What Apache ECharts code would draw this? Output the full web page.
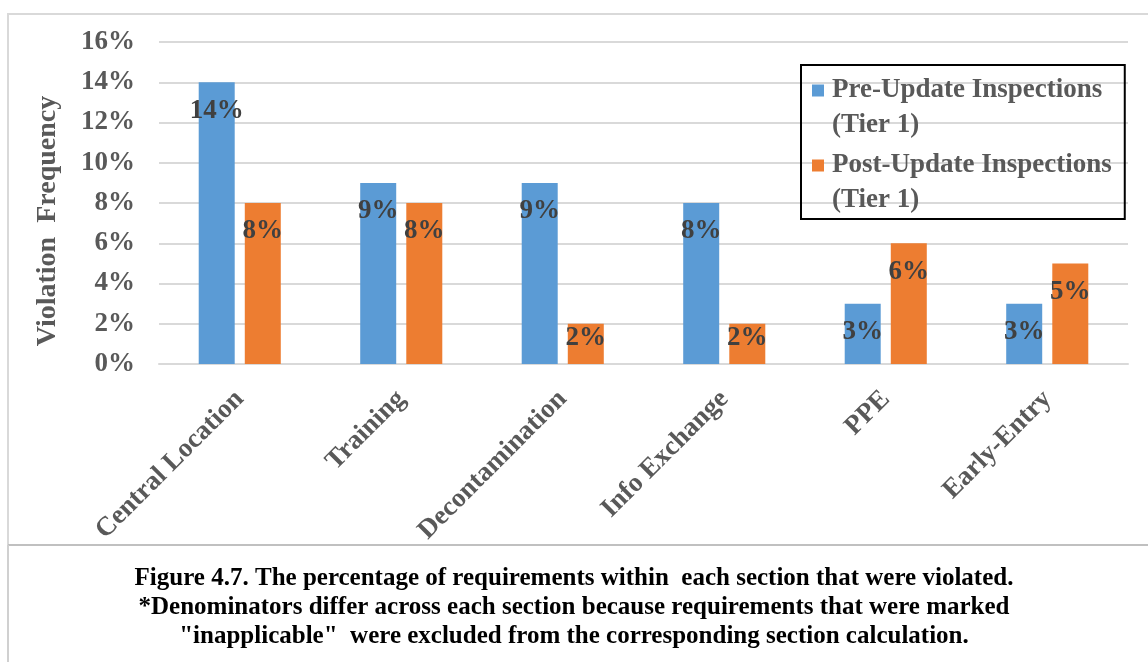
<!DOCTYPE html>
<html>
<head>
<meta charset="utf-8">
<script src="https://cdn.jsdelivr.net/npm/echarts@6/dist/echarts.min.js"></script>
<style>html,body{margin:0;padding:0;background:#fff;}#c{width:1148px;height:662px;}</style>
</head>
<body>
<div id="c"></div>
<script>
const categories = ['Central Location', 'Training', 'Decontamination', 'Info Exchange', 'PPE', 'Early-Entry'];
const preUpdate = [14, 9, 9, 8, 3, 3];
const postUpdate = [8, 8, 2, 2, 6, 5];
const seriesNames = ['Pre-Update Inspections (Tier 1)', 'Post-Update Inspections (Tier 1)'];
const yTicks = { min: 0, max: 16, interval: 2 };
const captionLines = [
  'Figure 4.7. The percentage of requirements within  each section that were violated.',
  '*Denominators differ across each section because requirements that were marked',
  '"inapplicable"  were excluded from the corresponding section calculation.'
];

const FONT = '"Liberation Serif", "Times New Roman", serif';
const FS = 27;
const chart = echarts.init(document.getElementById('c'));

function barData(vals) {
  return vals.map(v => ({ value: v, label: { distance: v < 3 ? 1 : 15 } }));
}

const labelStyle = {
  show: true, position: 'insideTop', formatter: '{c}%',
  fontFamily: FONT, fontWeight: 'bold', fontSize: FS, color: '#404040'
};

chart.setOption({
  animation: false,
  backgroundColor: '#fff',
  legend: {
    left: 801, top: 65,
    orient: 'vertical',
    icon: 'none',
    itemWidth: 0, itemHeight: 12,
    itemGap: 5,
    borderColor: '#000', borderWidth: 2,
    padding: [8, 13, 1, 6],
    selectedMode: false,
    formatter: function (name) {
      const key = name === seriesNames[0] ? 'p' : 'o';
      const idx = name.indexOf(' (');
      return '{' + key + '| }{g| }{t|' + name.slice(0, idx) + '}\n{s| }{t|' + name.slice(idx + 1) + '}';
    },
    textStyle: {
      fontFamily: FONT, fontWeight: 'bold', fontSize: FS, color: '#595959', lineHeight: 35,
      rich: {
        p: { backgroundColor: '#5B9BD5', width: 12, height: 12, lineHeight: 35 },
        o: { backgroundColor: '#ED7D31', width: 12, height: 12, lineHeight: 35 },
        g: { width: 8, lineHeight: 35 },
        s: { width: 20, lineHeight: 35 },
        t: { fontFamily: FONT, fontWeight: 'bold', fontSize: FS, color: '#595959', lineHeight: 35 }
      }
    }
  },
  grid: { left: 159, right: 20, top: 42, bottom: 298, containLabel: false },
  xAxis: {
    type: 'category',
    data: categories,
    axisTick: { show: false },
    axisLine: { lineStyle: { color: '#D9D9D9', width: 2 } },
    axisLabel: {
      rotate: 45, margin: 31, interval: 0,
      fontFamily: FONT, fontWeight: 'bold', fontSize: FS, color: '#595959'
    }
  },
  yAxis: {
    type: 'value',
    min: yTicks.min, max: yTicks.max, interval: yTicks.interval,
    axisLine: { show: false },
    axisTick: { show: false },
    splitLine: { lineStyle: { color: '#D9D9D9', width: 2 } },
    axisLabel: {
      formatter: '{value}%', margin: 24,
      fontFamily: FONT, fontWeight: 'bold', fontSize: FS, color: '#595959'
    }
  },
  series: [
    { name: seriesNames[0], type: 'bar', data: barData(preUpdate), barWidth: 36, barGap: '28%',
      itemStyle: { color: '#5B9BD5' }, label: labelStyle },
    { name: seriesNames[1], type: 'bar', data: barData(postUpdate), barWidth: 36, barGap: '28%',
      itemStyle: { color: '#ED7D31' }, label: labelStyle }
  ],
  graphic: [
    { type: 'rect', shape: { x: 8, y: 14, width: 1160, height: 531 }, style: { fill: 'none', stroke: '#D9D9D9', lineWidth: 2 }, silent: true, z: -1 },
    { type: 'line', shape: { x1: 8, y1: 545, x2: 1160, y2: 545 }, style: { stroke: '#C0C0C0', lineWidth: 2 }, silent: true },
    { type: 'line', shape: { x1: 8, y1: 545, x2: 8, y2: 670 }, style: { stroke: '#D0D0D0', lineWidth: 2 }, silent: true },
    { type: 'text', x: 48, y: 221, rotation: Math.PI / 2,
      style: { text: 'Violation  Frequency', fontFamily: FONT, fontWeight: 'bold', fontSize: 28, fill: '#595959', align: 'center', verticalAlign: 'middle' } },
    { type: 'text', x: 574, y: 608,
      style: { text: captionLines.join('\n'), fontFamily: FONT, fontWeight: 'bold', fontSize: 25, lineHeight: 29, fill: '#000', align: 'center', verticalAlign: 'middle' } }
  ]
});
</script>
</body>
</html>
